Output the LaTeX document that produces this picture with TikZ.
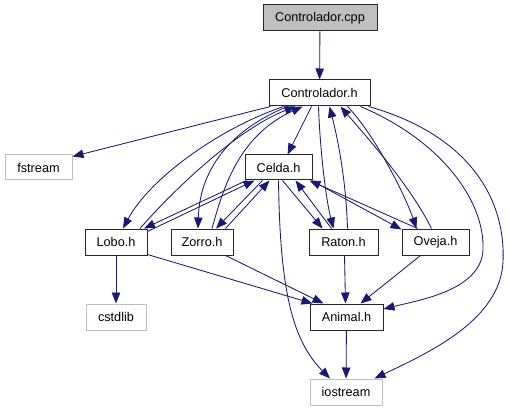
\documentclass[tikz,border=0pt]{standalone}
\usepackage{fontspec}
\setmainfont{Liberation Sans}
\usetikzlibrary{arrows.meta,calc}
\definecolor{mblue}{RGB}{25,25,112}
\definecolor{lgray}{RGB}{191,191,191}
\definecolor{cppfill}{RGB}{191,191,191}
\begin{document}
\begin{tikzpicture}[x=1pt,y=-1pt,
  box/.style={draw=black!85,line width=1pt,fill=white,rectangle,inner sep=0pt,minimum height=26pt,font=\fontsize{12.7}{14}\selectfont},
  sysbox/.style={box,draw=lgray},
  edge/.style={draw=mblue,line width=0.85pt,-{Triangle[length=11pt,width=8.5pt]}}]
\useasboundingbox (0,0) rectangle (510,411);
% nodes
\node[box,fill=cppfill,minimum width=114pt] (cpp) at (320,18) {Controlador.cpp};
\node[box,minimum width=101pt] (h) at (319.5,93) {Controlador.h};
\node[sysbox,minimum width=67pt,minimum height=25pt] (fstream) at (38.5,167.5) {fstream};
\node[box,minimum width=67pt,minimum height=25pt] (Celda) at (278.5,167.5) {Celda.h};
\node[box,minimum width=62pt] (Lobo) at (116,242) {Lobo.h};
\node[box,minimum width=62pt] (Zorro) at (202,242) {Zorro.h};
\node[box,minimum width=69pt] (Raton) at (343.5,242) {Raton.h};
\node[box,minimum width=67pt] (Oveja) at (435.5,242) {Oveja.h};
\node[sysbox,minimum width=60pt] (cstdlib) at (116,317) {cstdlib};
\node[box,minimum width=73pt] (Animal) at (346.5,317) {Animal.h};
\node[sysbox,minimum width=72pt] (iostream) at (346,392) {iostream};
% edges
\draw[edge] (cpp) -- (h);
\draw[edge] ($(h.south)+(-49,0)$) -- ($(fstream.north east)+(0,2)$);
\draw[edge] ($(h.south)+(-8,0)$) -- ($(Celda.north)+(9,0)$);
% Lobo
\draw[edge] ($(h.south)+(-36,0)$) .. controls (220,128) and (150,178) .. ($(Lobo.north)+(7,0)$);
\draw[edge] ($(Lobo.north)+(24,0)$) .. controls (178,185) and (240,128) .. ($(h.south)+(-24,0)$);
\draw[edge] ($(Celda.south west)+(2,0)$) -- ($(Lobo.north)+(28,0)$);
\draw[edge] ($(Lobo.north east)+(0,3)$) -- ($(Celda.south west)+(10,0)$);
% Zorro
\draw[edge] ($(h.south)+(-32,0)$) .. controls (235,128) and (200,165) .. ($(Zorro.north)+(-4,0)$);
\draw[edge] ($(Zorro.north)+(10,0)$) .. controls (224,185) and (240,135) .. ($(h.south)+(-17,0)$);
\draw[edge] ($(Celda.south west)+(18,0)$) -- ($(Zorro.north)+(14,0)$);
\draw[edge] ($(Zorro.north east)+(-8,0)$) -- ($(Celda.south west)+(25,0)$);
% Raton
\draw[edge] ($(h.south)+(-1,0)$) .. controls (320,150) and (326,200) .. ($(Raton.north)+(-10,0)$);
\draw[edge] ($(Raton.north)+(4,0)$) .. controls (346,180) and (338,140) .. ($(h.south)+(10,0)$);
\draw[edge] ($(Celda.south)+(4,0)$) -- ($(Raton.north)+(-21,0)$);
\draw[edge] ($(Raton.north)+(-12,0)$) -- ($(Celda.south)+(17,0)$);
% Oveja
\draw[edge] ($(Celda.south east)+(-1,0)$) -- ($(Oveja.north west)+(0,1)$);
\draw[edge] ($(Oveja.north west)+(16,0)$) -- ($(Celda.south east)+(-3,0)$);
\draw[edge] ($(h.south)+(28,0)$) .. controls (375,135) and (405,195) .. ($(Oveja.north)+(-19,0)$);
\draw[edge] ($(Oveja.north)+(-4,0)$) .. controls (410,185) and (365,135) .. ($(h.south)+(21,0)$);
% far right
\draw[edge] ($(h.south)+(41,0)$) .. controls (440,140) and (485,200) .. (483,250) .. controls (481,290) and (420,300) .. ($(Animal.east)+(0,-8)$);
\draw[edge] ($(h.south east)+(-2,0)$) .. controls (470,135) and (506,200) .. (503,262) .. controls (500,320) and (430,352) .. ($(iostream.north east)+(-8,0)$);
% lower
\draw[edge] (Celda.south) .. controls (280,290) and (292,340) .. ($(iostream.north)+(-16,0)$);
\draw[edge] (Animal) -- (iostream);
\draw[edge] (Lobo) -- (cstdlib);
\draw[edge] ($(Lobo.south east)+(0,-1)$) -- ($(Animal.north west)+(3,0)$);
\draw[edge] ($(Zorro.south east)+(-8,0)$) -- ($(Animal.north west)+(14,0)$);
\draw[edge] ($(Raton.south)+(1,0)$) -- ($(Animal.north)+(-1,0)$);
\draw[edge] ($(Oveja.south)+(-15,0)$) -- ($(Animal.north)+(14,0)$);
\end{tikzpicture}
\end{document}
